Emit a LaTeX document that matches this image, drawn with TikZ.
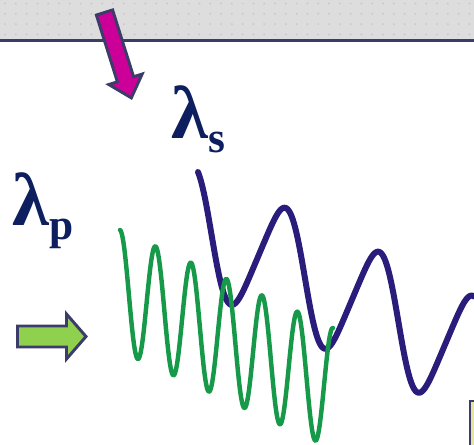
\documentclass[tikz,border=0pt]{standalone}
\usepackage{fontspec}
\setmainfont{Liberation Serif}
\definecolor{headbg}{HTML}{DDDDDD}
\definecolor{headdot}{HTML}{CACACA}
\definecolor{edgenavy}{HTML}{3C3C6A}
\definecolor{pinkfill}{HTML}{CC0099}
\definecolor{limefill}{HTML}{8FD04E}
\definecolor{labelnavy}{HTML}{0D1F5E}
\definecolor{signalblue}{HTML}{291C7A}
\definecolor{pumpgreen}{HTML}{17994A}
\definecolor{boxfill}{HTML}{E6E2A0}
\newcommand\lamsub[1]{λ\raisebox{-12.8pt}{\fontsize{37}{37}\selectfont #1}}
\tikzset{
  arrowbody/.style={draw=edgenavy, line width=2.5pt, line join=miter},
  lamlabel/.style={text=labelnavy, font=\fontsize{64}{64}\selectfont\bfseries, inner sep=0pt, anchor=base west},
  wave/.style={line width=#1, line cap=round, line join=round}
}
\begin{document}
\begin{tikzpicture}[x=0.03cm, y=-0.03cm]
  \useasboundingbox (0,0) rectangle (474,444);
  \clip (0,0) rectangle (474,444);
  % cabecera
  \fill[headbg] (0,0) rectangle (474,39);
  \foreach \i in {0,...,44}
    \foreach \j in {0,...,3}
      \fill[headdot] (5+10.8*\i,3.5+10.3*\j) circle (1.1);
  \draw[edgenavy, line width=2.6pt] (0,40.5) -- (474,40.5);
  % onda de la senal
  \draw[wave=5.1pt, signalblue] plot[domain=198:474, samples=260]
    (\x,{0.47*\x+134.9-61.3*cos((\x-281.6)/93.5*360-17.8*cos((\x-281.6)/93.5*360))});
  % onda de bombeo
  \draw[wave=3.8pt, pumpgreen] plot[domain=120:333, samples=320]
    (\x,{0.46*\x+235.2-60.4*cos((\x-120)/35.5*360)});
  % flecha de la senal
  \begin{scope}[shift={(104.5,12.5)}, rotate=-72.55]
    \draw[arrowbody, fill=pinkfill] (0,-8.5) -- (70,-8.5) -- (70,-17.5) -- (89.5,0)
      -- (70,17.5) -- (70,8.5) -- (0,8.5) -- cycle;
  \end{scope}
  % flecha de bombeo
  \begin{scope}[shift={(17.5,336.5)}]
    \draw[arrowbody, fill=limefill] (0,-10.5) -- (49,-10.5) -- (49,-22.5) -- (68.5,0)
      -- (49,22.5) -- (49,10.5) -- (0,10.5) -- cycle;
  \end{scope}
  % etiquetas
  \node[lamlabel] (lams) at (171,138) {\lamsub{s}};
  \node[lamlabel] (lamp) at (12,225) {\lamsub{p}};
  % caja de la esquina
  \draw[edgenavy, line width=1.7pt, fill=boxfill] (470,401) rectangle (480,450);
\end{tikzpicture}
\end{document}
